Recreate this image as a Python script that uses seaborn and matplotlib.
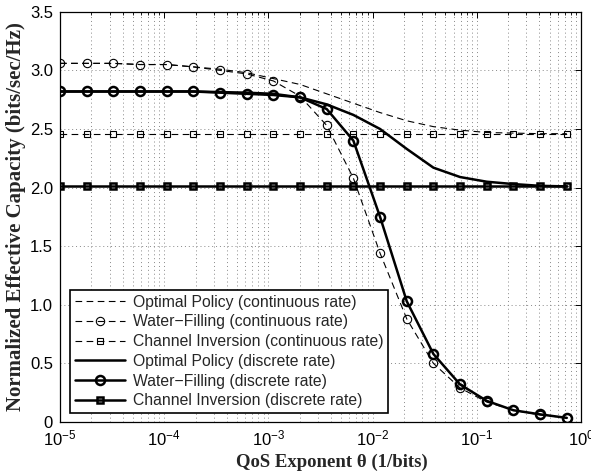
import numpy as np
import pandas as pd
import matplotlib
matplotlib.use("Agg")
import matplotlib.pyplot as plt
import seaborn as sns
from matplotlib.ticker import LogLocator, FixedLocator, NullFormatter

sns.set_theme(style="white")
plt.rcParams['font.family'] = ['Liberation Sans', 'DejaVu Sans']

# QoS exponent grid (log-spaced sample points)
theta_exp = [-5.0, -4.744, -4.488, -4.232, -3.976, -3.72, -3.464, -3.208, -2.952, -2.696,
             -2.44, -2.184, -1.928, -1.672, -1.416, -1.16, -0.904, -0.648, -0.392, -0.136]
theta = [10 ** e for e in theta_exp]

opt_cont = [3.06, 3.06, 3.06, 3.05, 3.05, 3.03, 3.01, 2.98, 2.93, 2.88,
            2.80, 2.72, 2.64, 2.57, 2.52, 2.49, 2.47, 2.465, 2.46, 2.46]
wf_cont = [3.06, 3.06, 3.06, 3.05, 3.05, 3.03, 3.00, 2.97, 2.91, 2.78,
           2.53, 2.08, 1.44, 0.88, 0.50, 0.29, 0.17, 0.10, 0.06, 0.035]
ci_cont = [2.46] * 20
opt_disc = [2.82, 2.82, 2.82, 2.82, 2.82, 2.82, 2.815, 2.81, 2.80, 2.77,
            2.71, 2.62, 2.50, 2.33, 2.17, 2.09, 2.05, 2.03, 2.015, 2.01]
wf_disc = [2.82, 2.82, 2.82, 2.82, 2.82, 2.82, 2.81, 2.80, 2.79, 2.77,
           2.67, 2.40, 1.75, 1.03, 0.58, 0.32, 0.18, 0.10, 0.065, 0.035]
ci_disc = [2.01] * 20

labels = ["Optimal Policy (continuous rate)",
          "Water\u2212Filling (continuous rate)",
          "Channel Inversion (continuous rate)",
          "Optimal Policy (discrete rate)",
          "Water\u2212Filling (discrete rate)",
          "Channel Inversion (discrete rate)"]

fig = plt.figure(figsize=(5.91, 4.72), dpi=100)
ax = fig.add_axes([0.1015, 0.106, 0.8815, 0.869])

dash = (6, 4)
series = [
    (opt_cont, dict(lw=0.8, dashes=dash, marker=None)),
    (wf_cont, dict(lw=0.8, dashes=dash, marker='o', ms=6, mew=0.8, mfc='none')),
    (ci_cont, dict(lw=0.8, dashes=dash, marker='s', ms=5, mew=0.8, mfc='none')),
    (opt_disc, dict(lw=1.8, marker=None)),
    (wf_disc, dict(lw=1.8, marker='o', ms=6.5, mew=1.8, mfc='none')),
    (ci_disc, dict(lw=1.8, marker='s', ms=5, mew=1.8, mfc='none')),
]
for (vals, kw), lab in zip(series, labels):
    df = pd.DataFrame({"theta": theta, "cap": vals})
    sns.lineplot(data=df, x="theta", y="cap", ax=ax, color='black', label=lab,
                 legend=False, mec='black', **kw)

ax.set_xscale('log')
ax.set_xlim(1e-5, 1)
ax.set_ylim(0, 3.5)
yt = [0, 0.5, 1.0, 1.5, 2.0, 2.5, 3.0, 3.5]
ax.yaxis.set_major_locator(FixedLocator(yt))
ax.set_yticklabels(["0", "0.5", "1.0", "1.5", "2.0", "2.5", "3.0", "3.5"])
ax.xaxis.set_major_locator(LogLocator(base=10, numticks=10))
ax.xaxis.set_minor_locator(LogLocator(base=10, subs=np.arange(2, 10), numticks=20))
ax.xaxis.set_minor_formatter(NullFormatter())

gstyle = dict(linestyle=(0, (1, 3)), color='#888888', lw=0.7)
ax.grid(True, which='major', axis='both', **gstyle)
ax.grid(True, which='minor', axis='x', **gstyle)
ax.set_axisbelow(True)

ax.tick_params(which='both', direction='in', top=True, right=True, labelsize=12,
               colors='black', pad=5)
ax.tick_params(which='major', length=4, width=0.7)
ax.tick_params(which='minor', length=2, width=0.6)
for s in ax.spines.values():
    s.set_color('black')
    s.set_linewidth(0.9)

ax.set_xlabel("QoS Exponent \u03b8 (1/bits)", fontsize=13.5, fontweight='bold',
              family=['Liberation Serif', 'DejaVu Serif'])
ax.xaxis.set_label_coords(0.521, -0.077, transform=ax.transAxes)
ax.xaxis.label.set_va('top')
ax.set_ylabel("Normalized Effective Capacity (bits/sec/Hz)", fontsize=15,
              fontweight='bold', family=['Liberation Serif', 'DejaVu Serif'], labelpad=3)

leg = ax.legend(loc='lower left', bbox_to_anchor=(0.019, 0.022), fontsize=11.3,
                frameon=True, fancybox=False, edgecolor='black', framealpha=1,
                handlelength=3.2, borderpad=0.3, labelspacing=0.3, handletextpad=0.5,
                borderaxespad=0)
leg.get_frame().set_linewidth(1.2)

fig.savefig("out.png", dpi=100)
